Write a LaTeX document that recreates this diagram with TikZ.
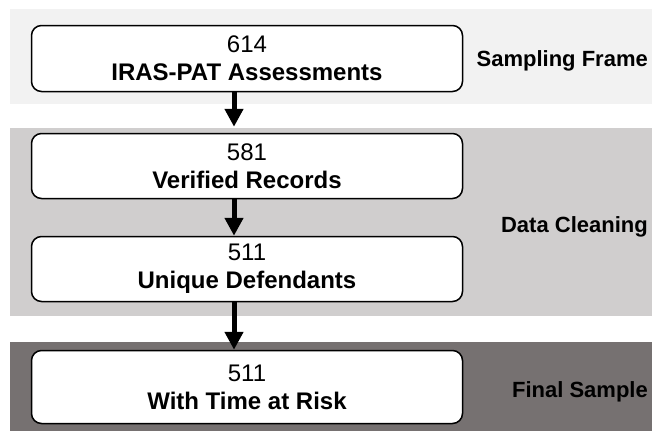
\documentclass[tikz,border=0pt]{standalone}
\usepackage{fontspec}
\setmainfont{Liberation Sans}
\usepackage{tikz}
\usetikzlibrary{arrows.meta}

\definecolor{bandlight}{HTML}{F2F2F2}
\definecolor{bandmid}{HTML}{D0CECE}
\definecolor{banddark}{HTML}{767171}

\begin{document}
\begin{tikzpicture}[x=1pt, y=-1pt,
		stage/.style={draw, fill=white, line width=1.5pt, rounded corners=10pt,
			minimum width=431pt, minimum height=65pt, align=center, inner sep=0pt,
			font=\fontsize{24}{28}\selectfont},
		phase/.style={anchor=base east, inner sep=0pt, font=\bfseries\fontsize{22}{26}\selectfont},
		flow/.style={line width=5pt, -{Triangle[width=18pt, length=18pt]}}]
		\useasboundingbox (0,0) rectangle (652,431);

		% Background bands
		\fill[bandlight] (10,9) rectangle (652,104);
		\fill[bandmid] (10,128) rectangle (652,316);
		\fill[banddark] (10,342) rectangle (652,431);

		% Define nodes
		\node[stage, minimum height=66pt] (assess) at (247,58.5) {614\\\textbf{IRAS-PAT Assessments}};
		\node[stage] (verified) at (247,166) {581\\\textbf{Verified Records}};
		\node[stage] (unique) at (247,269) {511\\\textbf{Unique Defendants}};
		\node[stage, minimum height=73pt] (risk) at (247,387) {511\\\textbf{With Time at Risk}};

		\node[phase] (frame) at (648,66) {Sampling Frame};
		\node[phase] (cleaning) at (648,232) {Data Cleaning};
		\node[phase] (final) at (648,397) {Final Sample};

		% Connect the nodes
		\coordinate (spine) at (234,0);
		\draw[flow, shorten >=6pt] (assess.south -| spine) -- (verified.north -| spine);
		\draw[flow] (verified.south -| spine) -- (unique.north -| spine);
		\draw[flow] (unique.south -| spine) -- (risk.north -| spine);
	\end{tikzpicture}
\end{document}
